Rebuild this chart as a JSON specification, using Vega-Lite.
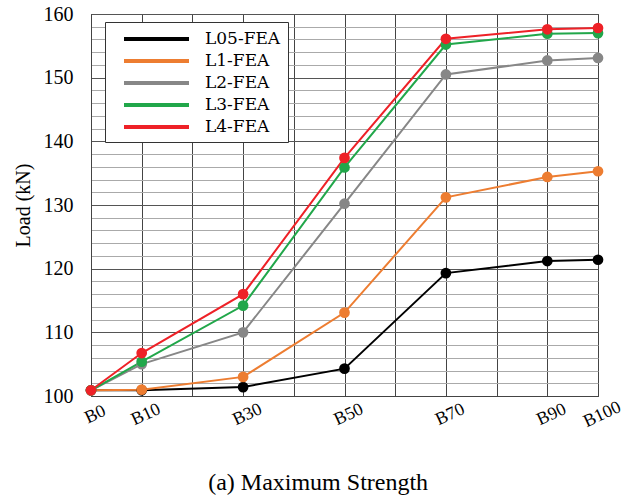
{
  "$schema": "https://vega.github.io/schema/vega-lite/v6.json",
  "width": 507,
  "height": 382,
  "autosize": "none",
  "padding": {"left": 91, "top": 14, "right": 25, "bottom": 101},
  "background": "white",
  "config": {
    "view": {"stroke": "#444", "strokeWidth": 1},
    "font": "Liberation Serif"
  },
  "title": {
    "text": "(a) Maximum Strength",
    "orient": "bottom",
    "frame": "bounds",
    "anchor": "middle",
    "offset": 40,
    "fontSize": 24,
    "font": "Liberation Serif",
    "fontWeight": "normal",
    "color": "#000"
  },
  "data": {
    "values": [
      {"series": "L05-FEA", "b": 0, "load": 100.9},
      {"series": "L05-FEA", "b": 10, "load": 100.9},
      {"series": "L05-FEA", "b": 30, "load": 101.4},
      {"series": "L05-FEA", "b": 50, "load": 104.3},
      {"series": "L05-FEA", "b": 70, "load": 119.3},
      {"series": "L05-FEA", "b": 90, "load": 121.2},
      {"series": "L05-FEA", "b": 100, "load": 121.4},
      {"series": "L1-FEA", "b": 0, "load": 100.9},
      {"series": "L1-FEA", "b": 10, "load": 101.0},
      {"series": "L1-FEA", "b": 30, "load": 103.0},
      {"series": "L1-FEA", "b": 50, "load": 113.1},
      {"series": "L1-FEA", "b": 70, "load": 131.2},
      {"series": "L1-FEA", "b": 90, "load": 134.4},
      {"series": "L1-FEA", "b": 100, "load": 135.3},
      {"series": "L2-FEA", "b": 0, "load": 100.9},
      {"series": "L2-FEA", "b": 10, "load": 105.0},
      {"series": "L2-FEA", "b": 30, "load": 110.0},
      {"series": "L2-FEA", "b": 50, "load": 130.2},
      {"series": "L2-FEA", "b": 70, "load": 150.5},
      {"series": "L2-FEA", "b": 90, "load": 152.7},
      {"series": "L2-FEA", "b": 100, "load": 153.1},
      {"series": "L3-FEA", "b": 0, "load": 100.9},
      {"series": "L3-FEA", "b": 10, "load": 105.4},
      {"series": "L3-FEA", "b": 30, "load": 114.2},
      {"series": "L3-FEA", "b": 50, "load": 135.9},
      {"series": "L3-FEA", "b": 70, "load": 155.2},
      {"series": "L3-FEA", "b": 90, "load": 156.9},
      {"series": "L3-FEA", "b": 100, "load": 157.0},
      {"series": "L4-FEA", "b": 0, "load": 100.9},
      {"series": "L4-FEA", "b": 10, "load": 106.75},
      {"series": "L4-FEA", "b": 30, "load": 116.0},
      {"series": "L4-FEA", "b": 50, "load": 137.4},
      {"series": "L4-FEA", "b": 70, "load": 156.1},
      {"series": "L4-FEA", "b": 90, "load": 157.6},
      {"series": "L4-FEA", "b": 100, "load": 157.8}
    ]
  },
  "encoding": {
    "x": {
      "field": "b",
      "type": "quantitative",
      "scale": {"domain": [0, 100], "nice": false, "zero": false},
      "axis": {
        "title": null,
        "values": [0, 10, 20, 30, 40, 50, 60, 70, 80, 90, 100],
        "labelExpr": "indexof([0,10,30,50,70,90,100], datum.value) >= 0 ? 'B' + datum.value : ''",
        "labelAngle": -25,
        "labelAlign": "center",
        "labelBaseline": "top",
        "labelPadding": 10,
        "labelFont": "Liberation Serif",
        "labelFontSize": 18,
        "labelColor": "#000",
        "labelOverlap": false,
        "labelFlush": false,
        "ticks": false,
        "domain": true,
        "domainColor": "#444",
        "grid": true,
        "gridColor": "#444",
        "gridOpacity": 1,
        "gridWidth": 1
      }
    },
    "y": {
      "field": "load",
      "type": "quantitative",
      "scale": {"domain": [100, 160], "nice": false, "zero": false},
      "axis": {
        "title": "Load (kN)",
        "titleFont": "Liberation Serif",
        "titleFontSize": 20,
        "titleFontWeight": "normal",
        "titleColor": "#000",
        "titlePadding": 10,
        "values": [100, 102, 104, 106, 108, 110, 112, 114, 116, 118, 120, 122, 124, 126, 128, 130, 132, 134, 136, 138, 140, 142, 144, 146, 148, 150, 152, 154, 156, 158, 160],
        "labelExpr": "datum.value % 10 === 0 ? datum.label : ''",
        "labelFont": "Liberation Serif",
        "labelFontSize": 20,
        "labelColor": "#000",
        "labelPadding": 18,
        "labelOverlap": false,
        "labelFlush": false,
        "ticks": false,
        "domain": true,
        "domainColor": "#444",
        "grid": true,
        "gridColor": {"condition": {"test": "datum.value % 10 === 0", "value": "#555"}, "value": "#aaa"},
        "gridOpacity": 1,
        "gridWidth": 1
      }
    },
    "color": {
      "field": "series",
      "type": "nominal",
      "scale": {
        "domain": ["L05-FEA", "L1-FEA", "L2-FEA", "L3-FEA", "L4-FEA"],
        "range": ["#000000", "#ED7D31", "#878787", "#21A74A", "#EE2127"]
      },
      "legend": {
        "title": null,
        "orient": "none",
        "legendX": 14,
        "legendY": 8,
        "direction": "vertical",
        "fillColor": "white",
        "strokeColor": "#333",
        "padding": 7,
        "symbolType": "M0.25,0H8.375",
        "symbolSize": 256,
        "symbolStrokeWidth": 4,
        "labelFont": "DejaVu Serif",
        "labelFontSize": 17,
        "labelColor": "#000",
        "labelOffset": 73,
        "rowPadding": 4
      }
    }
  },
  "layer": [
    {"mark": {"type": "line", "strokeWidth": 2}, "encoding": {"detail": {"field": "series"}}},
    {"mark": {"type": "circle", "size": 115, "opacity": 1}}
  ]
}
